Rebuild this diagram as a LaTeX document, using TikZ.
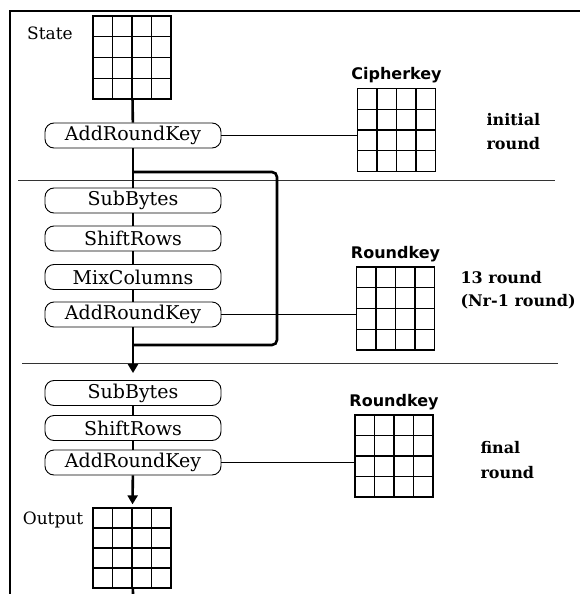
\documentclass[tikz,border=0pt]{standalone}
\usepackage{fontspec}
\usetikzlibrary{arrows.meta,calc}
\newfontfamily\opfont{DejaVu Serif}
\newfontfamily\keyfont{DejaVu Sans}
\tikzset{
  opbox/.style={draw, line width=0.9pt, rounded corners=9pt, minimum width=176pt,
    minimum height=25pt, inner sep=0pt, font=\opfont\fontsize{19}{22}\selectfont},
  keygrid/.style={draw, line width=1.3pt, minimum width=78pt, minimum height=83pt, inner sep=0pt,
    path picture={
      \foreach \k in {1,2,3} {
        \draw[line width=1.3pt] ($(path picture bounding box.south west)!\k/4!(path picture bounding box.south east)$)
          -- ($(path picture bounding box.north west)!\k/4!(path picture bounding box.north east)$);
        \draw[line width=1.3pt] ($(path picture bounding box.south west)!\k/4!(path picture bounding box.north west)$)
          -- ($(path picture bounding box.south east)!\k/4!(path picture bounding box.north east)$);
      }
    }},
  flow/.style={line width=2.6pt},
  keyline/.style={line width=1pt},
  sepline/.style={line width=1pt, black!80},
  gridname/.style={font=\keyfont\bfseries\fontsize{16}{19}\selectfont},
  roundname/.style={font=\opfont\bfseries\fontsize{16}{24}\selectfont, align=left, anchor=west},
  plainname/.style={font=\opfont\fontsize{17}{20}\selectfont}
}
\begin{document}
\begin{tikzpicture}[x=1pt, y=-1pt]
\useasboundingbox (0,0) rectangle (580,594);
% frame and round separators
\draw[line width=2.2pt] (10,594) -- (10,11) -- (580,11);
\draw[sepline] (18,180) -- (555,180);
\draw[sepline] (22,363) -- (558,363);
% state and output blocks
\node[keygrid] (state) at (132,57.5) {};
\node[plainname] (statename) at (50,33) {State};
\node[keygrid, minimum height=80pt] (out) at (132,548) {};
\node[plainname] (outname) at (53,520) {Output};
% initial round
\node[opbox] (ark1) at (133,135.5) {AddRoundKey};
\node[keygrid, label={[gridname, label distance=1pt]above:Cipherkey}] (ck) at (396.5,130) {};
\node[roundname] (initname) at (483,132) {initial\\round};
% 13 rounds
\node[opbox] (sb2) at (133,200.5) {SubBytes};
\node[opbox] (sr2) at (133,238.5) {ShiftRows};
\node[opbox] (mc2) at (133,277) {MixColumns};
\node[opbox] (ark2) at (133,314.5) {AddRoundKey};
\node[keygrid, label={[gridname, label distance=1pt]above:Roundkey}] (rk2) at (395.5,308.5) {};
\node[roundname, font=\opfont\bfseries\fontsize{16}{23}\selectfont] (midname) at (457,290.5) {13 round\\(Nr-1 round)};
% final round
\node[opbox] (sb3) at (133,393) {SubBytes};
\node[opbox] (sr3) at (133,428) {ShiftRows};
\node[opbox] (ark3) at (133,462.5) {AddRoundKey};
\node[keygrid, minimum height=82pt, label={[gridname, label distance=1pt]above:Roundkey}] (rk3) at (394,456) {};
\node[roundname, font=\opfont\bfseries\fontsize{16}{25}\selectfont] (finname) at (477,460.5) {final\\round};
% loop back and exit
\coordinate (bpin) at (133,172);
\coordinate (bpright) at (277,172);
\coordinate (bpout) at (133,345);
\coordinate (exit) at (133,594);
% flow
\path [flow] (state) edge (ark1);
\path [flow] (ark1) edge (sb2);
\path [flow] (sb2) edge (sr2);
\path [flow] (sr2) edge (mc2);
\path [flow] (mc2) edge (ark2);
\draw [flow, rounded corners=5pt] (bpin) -- (bpright) |- (bpout);
\draw [flow, -{Triangle[width=10pt,length=9pt]}, shorten >=7pt] (ark2) -- (sb3);
\path [flow] (sb3) edge (sr3);
\path [flow] (sr3) edge (ark3);
\draw [flow, -{Triangle[width=10pt,length=9pt]}, shorten >=3pt] (ark3) -- (out);
\path [flow] (out) edge (exit);
% keys
\draw [keyline] (ark1.east) -- (ark1.east -| ck.west);
\draw [keyline] (ark2.east) -- (ark2.east -| rk2.west);
\draw [keyline] (ark3.east) -- (ark3.east -| rk3.west);
\end{tikzpicture}
\end{document}
